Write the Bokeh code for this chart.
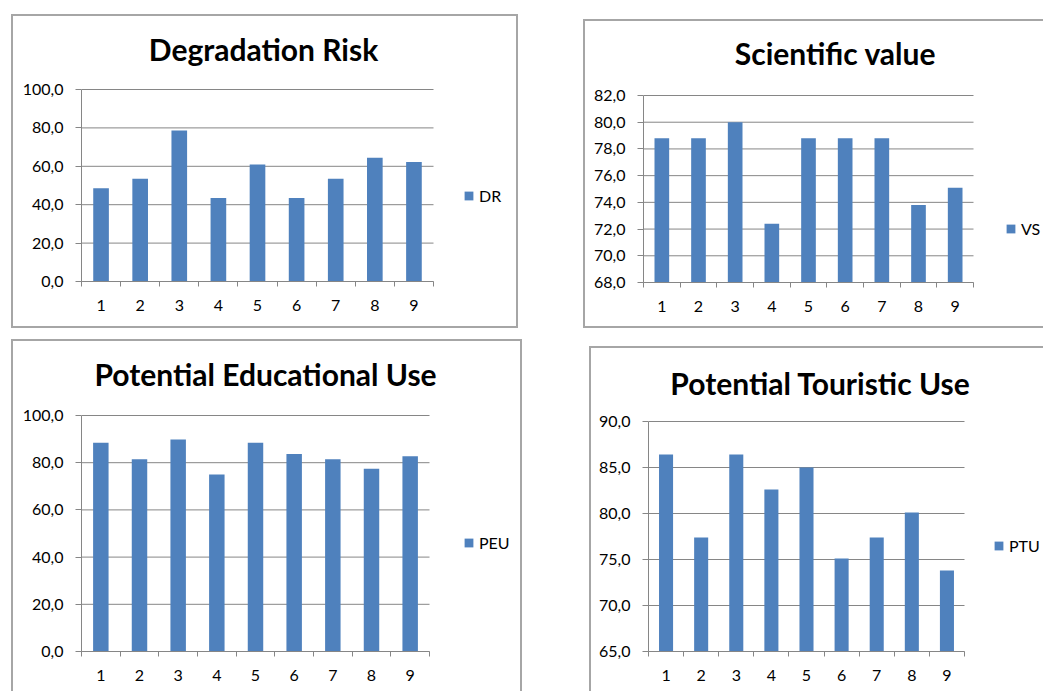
from bokeh.plotting import figure
from bokeh.models import (Range1d, FixedTicker, Label, Legend, LegendItem, Spacer, ColumnDataSource)
from bokeh.layouts import row, column
from bokeh.embed import file_html
from bokeh.resources import INLINE

# ---------------- data ----------------
sites = [1, 2, 3, 4, 5, 6, 7, 8, 9]

dr_values = [48.6, 53.5, 78.6, 43.5, 61.0, 43.5, 53.5, 64.5, 62.3]
vs_values = [78.8, 78.8, 80.0, 72.4, 78.8, 78.8, 78.8, 73.8, 75.1]
peu_values = [88.5, 81.5, 89.8, 75.0, 88.5, 83.7, 81.5, 77.4, 82.7]
ptu_values = [86.4, 77.4, 86.4, 82.6, 85.0, 75.1, 77.4, 80.1, 73.8]

dr_ticks = [0, 20, 40, 60, 80, 100]
vs_ticks = [68, 70, 72, 74, 76, 78, 80, 82]
peu_ticks = [0, 20, 40, 60, 80, 100]
ptu_ticks = [65, 70, 75, 80, 85, 90]

dr_tick_labels = ["0,0", "20,0", "40,0", "60,0", "80,0", "100,0"]
vs_tick_labels = ["68,0", "70,0", "72,0", "74,0", "76,0", "78,0", "80,0", "82,0"]
peu_tick_labels = ["0,0", "20,0", "40,0", "60,0", "80,0", "100,0"]
ptu_tick_labels = ["65,0", "70,0", "75,0", "80,0", "85,0", "90,0"]

titles = ["Degradation Risk", "Scientific value", "Potential Educational Use", "Potential Touristic Use"]
series_names = ["DR", "VS", "PEU", "PTU"]

BAR = "#4F81BD"
GRID = "#868686"
FONT = "Lato"
BW = 2
BORDER = f"{BW}px solid #a6a6a6"
X_LO, X_HI = 0.5, 9.5


def panel(title, name, values, ticks, tick_labels, outer, borders, plot_box,
          title_pos, legend_pos):
    # outer = (x0, y0, x1, y1) of the panel frame in page pixels
    # plot_box = (left, right, top, bottom) of the plotting area in page pixels
    ox0, oy0, ox1, oy1 = outer
    w, h = ox1 - ox0, oy1 - oy0
    cx0 = ox0 + (BW if "left" in borders else 0)
    cy0 = oy0 + (BW if "top" in borders else 0)
    cx1, cy1 = cx0 + w, cy0 + h
    pl, pr, pt, pb = plot_box
    ml, mb = pl - cx0, cy1 - pb
    x_end = X_HI + (cx1 - pr) * (X_HI - X_LO) / (pr - pl)
    y_end = ticks[-1] + (pt - cy0) * (ticks[-1] - ticks[0]) / (pb - pt)

    p = figure(width=w, height=h, output_backend="svg", toolbar_location=None,
               x_range=Range1d(X_LO, x_end), y_range=Range1d(ticks[0], y_end),
               min_border_left=ml, min_border_right=0, min_border_top=0,
               min_border_bottom=mb)
    p.outline_line_color = None
    p.background_fill_color = "white"
    p.border_fill_color = "white"
    p.xgrid.visible = False
    p.ygrid.visible = False

    n = len(ticks)
    p.segment(x0=[X_LO] * n, x1=[X_HI] * n, y0=ticks, y1=ticks,
              line_color=GRID, line_width=1)

    src = ColumnDataSource(dict(x=sites, top=values))
    r = p.vbar(x="x", top="top", bottom=ticks[0], width=0.4, source=src,
               fill_color=BAR, line_color=None)

    xa = p.xaxis[0]
    xa.bounds = (X_LO, X_HI)
    xa.ticker = FixedTicker(ticks=sites, minor_ticks=[s - 0.5 for s in sites] + [X_HI])
    xa.axis_line_color = GRID
    xa.major_tick_out = 0
    xa.major_tick_in = 0
    xa.minor_tick_out = 5
    xa.minor_tick_in = 0
    xa.minor_tick_line_color = GRID
    xa.major_label_standoff = 13
    xa.major_label_text_font = FONT
    xa.major_label_text_font_size = "16px"
    xa.major_label_text_color = "black"

    ya = p.yaxis[0]
    ya.bounds = (ticks[0], ticks[-1])
    ya.ticker = FixedTicker(ticks=ticks)
    ya.major_label_overrides = {t: lab for t, lab in zip(ticks, tick_labels)}
    ya.axis_line_color = GRID
    ya.major_tick_line_color = GRID
    ya.major_tick_out = 6
    ya.major_tick_in = 0
    ya.minor_tick_out = 0
    ya.minor_tick_in = 0
    ya.major_label_standoff = 12
    ya.major_label_text_font = FONT
    ya.major_label_text_font_size = "16px"
    ya.major_label_text_color = "black"

    p.add_layout(Label(x=title_pos[0] - pl, y=pb - title_pos[1], x_units="screen",
                       y_units="screen", text=title, text_align="center",
                       text_baseline="middle", text_font=FONT, text_font_style="bold",
                       text_font_size="30px", text_color="black"))

    leg = Legend(items=[LegendItem(label=name, renderers=[r])],
                 location=(legend_pos[0] - pl, pb - legend_pos[1] - 6),
                 padding=0, margin=0, spacing=0, border_line_color=None,
                 background_fill_alpha=0, glyph_width=11, glyph_height=11,
                 label_height=12, label_standoff=5, label_text_font=FONT,
                 label_text_font_size="16px", label_text_color="black")
    p.add_layout(leg)

    p.styles = {f"border-{b}": BORDER for b in borders}
    return p


f1 = panel(titles[0], series_names[0], dr_values, dr_ticks, dr_tick_labels,
           (11, 14, 518, 328), ["top", "left", "right", "bottom"],
           (81, 433, 89, 281), (263, 48), (463, 199))
f2 = panel(titles[1], series_names[1], vs_values, vs_ticks, vs_tick_labels,
           (583, 19, 1043, 328), ["top", "left", "bottom"],
           (643, 973, 95, 282), (835, 52), (1005, 232))
f3 = panel(titles[2], series_names[2], peu_values, peu_ticks, peu_tick_labels,
           (11, 339, 522, 691), ["top", "left", "right"],
           (81, 429, 415, 651), (265, 373), (463, 546))
f4 = panel(titles[3], series_names[3], ptu_values, ptu_ticks, ptu_tick_labels,
           (589, 346, 1043, 691), ["top", "left"],
           (648, 964, 421, 651), (820, 382), (993, 549))

layout = column(
    row(Spacer(width=11), column(Spacer(height=14), f1), Spacer(width=65),
        column(Spacer(height=19), f2)),
    row(Spacer(width=11), column(Spacer(height=11), f3), Spacer(width=67),
        column(Spacer(height=18), f4)),
)

open("out.html", "w").write(file_html(layout, INLINE))
